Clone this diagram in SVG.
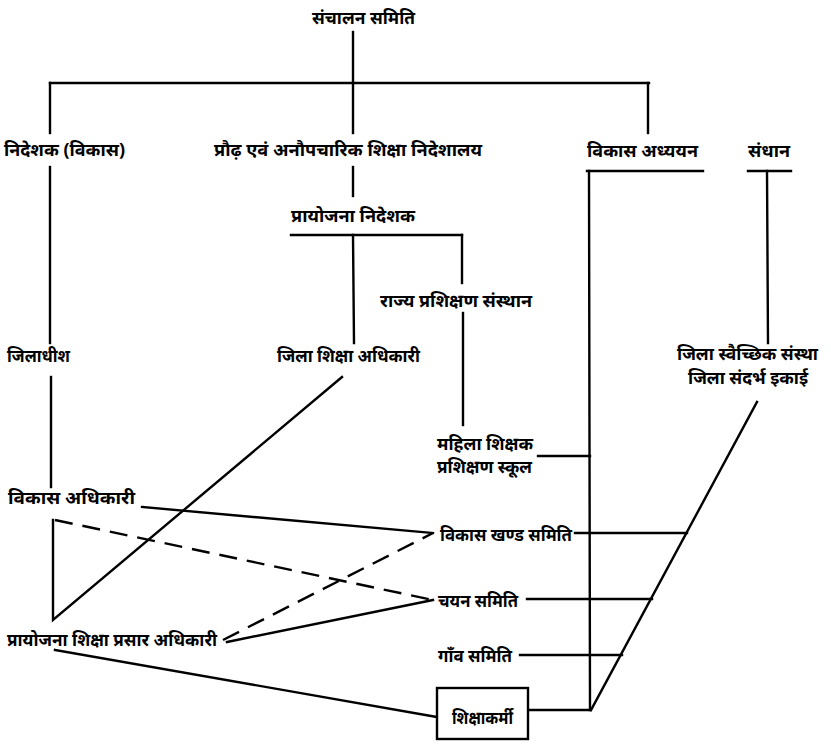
<svg xmlns="http://www.w3.org/2000/svg" width="831" height="745" viewBox="0 0 831 745">
<style>
text{font-family:"Noto Sans","DejaVu Sans",sans-serif;font-size:17px;font-weight:bold;fill:#000}
.c line,.c polyline{stroke:#000;stroke-width:2.4;fill:none;stroke-linecap:square}
.c .d{stroke-dasharray:18 10;stroke-linecap:butt}
.box{fill:#fff;stroke:#000;stroke-width:2.4}
</style>
<rect width="831" height="745" fill="#fff"/>
<g class="c" id="connectors">
<line x1="353" y1="32" x2="353" y2="133"/>
<line x1="50" y1="83" x2="649" y2="83"/>
<line x1="50" y1="83" x2="50" y2="133"/>
<line x1="648" y1="83" x2="648" y2="133"/>
<line x1="353" y1="167" x2="353" y2="196"/>
<line x1="50" y1="167" x2="50" y2="343"/>
<line x1="51" y1="377" x2="51" y2="487"/>
<line x1="291" y1="235" x2="462" y2="235"/>
<line x1="353" y1="235" x2="354" y2="343"/>
<line x1="462" y1="235" x2="462" y2="283"/>
<line x1="463" y1="313" x2="463" y2="425"/>
<line x1="587" y1="171" x2="703" y2="171"/>
<line x1="589" y1="171" x2="590" y2="710"/>
<line x1="748" y1="171" x2="791" y2="171"/>
<line x1="767" y1="171" x2="768" y2="343"/>
<line x1="538" y1="456" x2="590" y2="456"/>
<line x1="757" y1="402" x2="591" y2="710"/>
<line x1="575" y1="533" x2="687" y2="533"/>
<line x1="527" y1="599" x2="652" y2="599"/>
<line x1="520" y1="655" x2="622" y2="655"/>
<line x1="528" y1="710" x2="590" y2="710"/>
<polyline points="53,520 53,620 342,377"/>
<line x1="142" y1="507" x2="433" y2="533"/>
<line class="d" x1="55" y1="520" x2="433" y2="600"/>
<line class="d" x1="223" y1="640" x2="433" y2="533"/>
<line x1="227" y1="642" x2="433" y2="600"/>
<line x1="55" y1="650" x2="437" y2="717"/>
</g>
<g id="n1"><text x="312" y="24" textLength="103" lengthAdjust="spacingAndGlyphs">संचालन  समिति</text></g>
<g id="n2"><text x="4" y="156" textLength="121" lengthAdjust="spacingAndGlyphs">निदेशक (विकास)</text></g>
<g id="n3"><text x="214" y="156" textLength="268" lengthAdjust="spacingAndGlyphs">प्रौढ़ एवं अनौपचारिक शिक्षा निदेशालय</text></g>
<g id="n4"><text x="587" y="157" textLength="111" lengthAdjust="spacingAndGlyphs">विकास  अध्ययन</text></g>
<g id="n5"><text x="748" y="157" textLength="42" lengthAdjust="spacingAndGlyphs">संधान</text></g>
<g id="n6"><text x="291" y="222" textLength="124" lengthAdjust="spacingAndGlyphs">प्रायोजना  निदेशक</text></g>
<g id="n7"><text x="380" y="307" textLength="152" lengthAdjust="spacingAndGlyphs">राज्य प्रशिक्षण संस्थान</text></g>
<g id="n8"><text x="7" y="362" textLength="63" lengthAdjust="spacingAndGlyphs">जिलाधीश</text></g>
<g id="n9"><text x="277" y="362" textLength="143" lengthAdjust="spacingAndGlyphs">जिला शिक्षा अधिकारी</text></g>
<g id="n10"><text x="677" y="360" textLength="141" lengthAdjust="spacingAndGlyphs" font-size="16">जिला स्वैच्छिक संस्था</text><text x="688" y="384" textLength="120" lengthAdjust="spacingAndGlyphs" font-size="16">जिला संदर्भ इकाई</text></g>
<g id="n11"><text x="437" y="450" textLength="96" lengthAdjust="spacingAndGlyphs">महिला  शिक्षक</text><text x="437" y="473" textLength="95" lengthAdjust="spacingAndGlyphs">प्रशिक्षण  स्कूल</text></g>
<g id="n12"><text x="8" y="504" textLength="127" lengthAdjust="spacingAndGlyphs">विकास  अधिकारी</text></g>
<g id="n13"><text x="440" y="541" textLength="132" lengthAdjust="spacingAndGlyphs">विकास खण्ड समिति</text></g>
<g id="n14"><text x="438" y="607" textLength="80" lengthAdjust="spacingAndGlyphs">चयन समिति</text></g>
<g id="n15"><text x="7" y="646" textLength="210" lengthAdjust="spacingAndGlyphs">प्रायोजना शिक्षा प्रसार अधिकारी</text></g>
<g id="n16"><text x="438" y="662" textLength="74" lengthAdjust="spacingAndGlyphs">गाँव समिति</text></g>
<g id="n17"><rect class="box" x="437" y="688" width="91" height="51"/><text x="452" y="724" textLength="61" lengthAdjust="spacingAndGlyphs">शिक्षाकर्मी</text></g>
</svg>
